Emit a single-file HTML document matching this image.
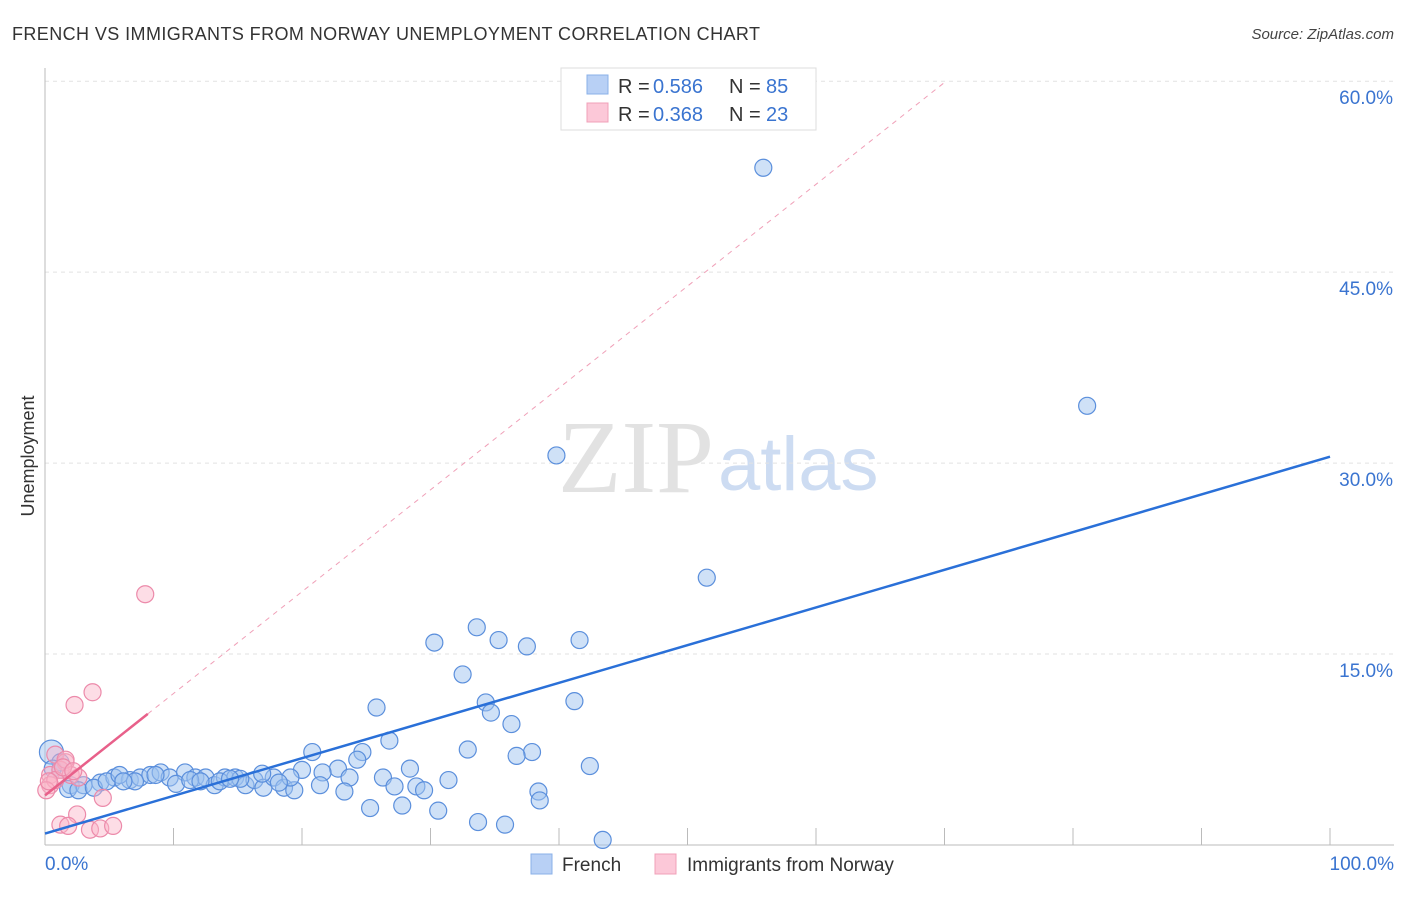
<!DOCTYPE html>
<html><head><meta charset="utf-8"><style>
body{margin:0;background:#fff;font-family:"Liberation Sans",sans-serif}
svg text{font-family:"Liberation Sans",sans-serif}
</style></head><body>
<svg id="c" width="1406" height="892" xmlns="http://www.w3.org/2000/svg">
<text x="12" y="40" font-size="18" fill="#333" textLength="748">FRENCH VS IMMIGRANTS FROM NORWAY UNEMPLOYMENT CORRELATION CHART</text>
<text x="1394" y="39" font-size="15" fill="#444" font-style="italic" text-anchor="end">Source: ZipAtlas.com</text>
<text x="34" y="456" font-size="18" fill="#333" transform="rotate(-90 34 456)" text-anchor="middle">Unemployment</text>
<text x="714" y="492" font-size="104" fill="#e2e2e2" text-anchor="end" style="font-family:'Liberation Serif',serif">ZIP</text>
<text x="718" y="490" font-size="76" fill="#cddcf2">atlas</text>
<g id="grid"></g><g id="marks"></g>
<g>
<rect x="561" y="68" width="255" height="62" fill="#fff" stroke="#ddd"/>
<rect x="587" y="75" width="21" height="19" fill="#b8d0f5" stroke="#8ab0e8"/>
<rect x="587" y="103" width="21" height="19" fill="#fcc8d8" stroke="#f0a0b8"/>
<text x="618" y="93" font-size="20" fill="#333">R =</text><text x="653" y="93" font-size="20" fill="#3a74d0">0.586</text>
<text x="729" y="93" font-size="20" fill="#333">N =</text><text x="766" y="93" font-size="20" fill="#3a74d0">85</text>
<text x="618" y="121" font-size="20" fill="#333">R =</text><text x="653" y="121" font-size="20" fill="#3a74d0">0.368</text>
<text x="729" y="121" font-size="20" fill="#333">N =</text><text x="766" y="121" font-size="20" fill="#3a74d0">23</text>
</g>
<g>
<rect x="531" y="854" width="21" height="20" fill="#b8d0f5" stroke="#8ab0e8"/>
<text x="562" y="871" font-size="19" fill="#333">French</text>
<rect x="655" y="854" width="21" height="20" fill="#fcc8d8" stroke="#f0a0b8"/>
<text x="687" y="871" font-size="19" fill="#333">Immigrants from Norway</text>
</g>
</svg>
<script>
const yTicks=[15,30,45,60];
const yTickLabels=["15.0%","30.0%","45.0%","60.0%"];
const xTickLabels=["0.0%","100.0%"];
const frenchX=[55.9,81.1,39.8,51.5,33.6,30.3,35.3,37.5,41.6,32.5,41.2,34.3,34.7,25.8,36.3,26.8,32.9,37.9,36.7,24.7,20.8,24.3,42.4,28.4,22.8,20,21.6,23.7,26.3,31.4,28.9,27.2,29.5,38.4,38.5,21.4,23.3,25.3,27.8,30.6,33.7,35.8,43.4,
0.5,1.2,2,3,4.3,5.4,6.6,7.4,8.2,9,9.7,10.9,11.7,12.5,13.2,14,14.8,15.6,16.3,17,17.8,18.6,19.4,19.1,1.2,0.6,1.8,2.6,3.8,4.8,5.8,7,8.6,10.2,11.3,13.6,15.2,16.9,18.2,12.1,6.1,14.4];
const frenchY=[53.2,34.5,30.6,21.0,17.1,15.9,16.1,15.6,16.1,13.4,11.3,11.2,10.4,10.8,9.5,8.2,7.5,7.3,7.0,7.3,7.3,6.7,6.2,6.0,6.0,5.9,5.7,5.3,5.3,5.1,4.6,4.6,4.3,4.2,3.5,4.7,4.2,2.9,3.1,2.7,1.8,1.6,0.4,
7.3,5.9,4.7,4.7,4.9,5.3,5.1,5.3,5.5,5.7,5.3,5.7,5.3,5.3,4.7,5.3,5.3,4.7,5.1,4.5,5.3,4.5,4.3,5.3,6.5,6.0,4.4,4.3,4.5,5.0,5.5,5.0,5.5,4.8,5.1,5.0,5.2,5.6,4.9,5.0,5.0,5.2];
const norwayX=[7.8,3.7,2.3,4.5,2.5,1.2,1.8,3.5,4.3,5.3,0.8,1.6,0.4,1.2,2,0.4,0.8,1.6,0.1,2.6,1.4,0.3,2.2];
const norwayY=[19.7,12.0,11.0,3.7,2.4,1.6,1.5,1.2,1.3,1.5,7.1,6.5,5.5,5.9,5.5,4.7,5.1,6.7,4.3,5.3,6.1,5.0,5.8];
const frenchTrend=[0.9,30.5];
const norwayTrend=[3.9,10.3];
const X=v=>45+v*12.85, Y=v=>845-v*12.73;
const NS="http://www.w3.org/2000/svg";
function mk(t,a,p){const e=document.createElementNS(NS,t);for(const k in a)e.setAttribute(k,a[k]);p.appendChild(e);return e;}
const g=document.getElementById('grid'), m=document.getElementById('marks');
yTicks.forEach((t,i)=>{
 const l=mk('line',{x1:45,x2:1394,y1:Y(t),y2:Y(t),stroke:'#e2e2e2','stroke-dasharray':'4 4'},g);
 
 
 const tx=mk('text',{x:1393,y:Y(t)+23,'font-size':19,fill:'#3a74d0','text-anchor':'end'},g);tx.textContent=yTickLabels[i];
 
 
});
const ax=mk('line',{x1:45,x2:1394,y1:845,y2:845,stroke:'#bbb'},g);


const ay=mk('line',{x1:45,x2:45,y1:68,y2:845,stroke:'#bbb'},g);


for(let i=1;i<=10;i++){const t=mk('line',{x1:X(i*10),x2:X(i*10),y1:828,y2:845,stroke:'#bbb'},g);
 
 }
[[0,'start',45],[100,'end',1394]].forEach((d,i)=>{const t=mk('text',{x:d[2],y:870,'font-size':19,fill:'#3a74d0','text-anchor':d[1]},g);t.textContent=xTickLabels[i];
 
 });
frenchX.forEach((x,i)=>{const c=mk('circle',{cx:X(x),cy:Y(frenchY[i]),r:i===43?12:8.5,fill:'rgba(160,195,240,0.5)',stroke:'#5b8fdc','stroke-width':1.2},m);
 
 });
norwayX.forEach((x,i)=>{const c=mk('circle',{cx:X(x),cy:Y(norwayY[i]),r:8.5,fill:'rgba(250,180,200,0.45)',stroke:'#ec8aaa','stroke-width':1.2},m);
 
 });
const slope=(norwayTrend[1]-norwayTrend[0])/8;
const ext=(60-norwayTrend[0])/slope;
const d=mk('line',{x1:X(8),y1:Y(norwayTrend[1]),x2:X(ext),y2:Y(60),stroke:'#f0a0b8','stroke-dasharray':'5 5'},m);


const pl=mk('line',{x1:X(0),y1:Y(norwayTrend[0]),x2:X(8),y2:Y(norwayTrend[1]),stroke:'#e8608a','stroke-width':2.5},m);


const bl=mk('line',{x1:X(0),y1:Y(frenchTrend[0]),x2:X(100),y2:Y(frenchTrend[1]),stroke:'#2a70d8','stroke-width':2.5},m);


</script>
</body></html>
